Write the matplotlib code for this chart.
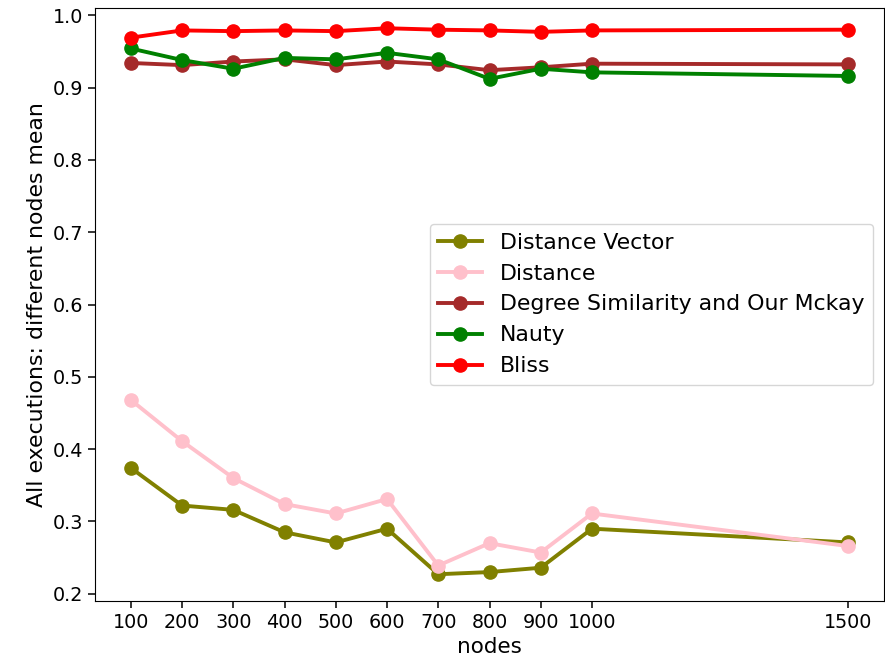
import matplotlib
matplotlib.use("Agg")
import matplotlib.pyplot as plt

nodes = [100, 200, 300, 400, 500, 600, 700, 800, 900, 1000, 1500]
distance_vector = [0.374, 0.322, 0.316, 0.285, 0.271, 0.290, 0.227, 0.230, 0.236, 0.290, 0.271]
distance = [0.468, 0.411, 0.360, 0.324, 0.311, 0.331, 0.239, 0.270, 0.257, 0.311, 0.266]
degree_sim = [0.934, 0.931, 0.936, 0.939, 0.931, 0.936, 0.932, 0.924, 0.928, 0.933, 0.932]
nauty = [0.954, 0.938, 0.926, 0.941, 0.939, 0.948, 0.939, 0.912, 0.926, 0.921, 0.916]
bliss = [0.969, 0.979, 0.978, 0.979, 0.978, 0.982, 0.980, 0.979, 0.977, 0.979, 0.980]

series = [
    ("Distance Vector", distance_vector, "olive"),
    ("Distance", distance, "pink"),
    ("Degree Similarity and Our Mckay", degree_sim, "brown"),
    ("Nauty", nauty, "green"),
    ("Bliss", bliss, "red"),
]

fig = plt.figure(figsize=(8.85, 6.7), dpi=100)
ax = fig.add_axes([95/885, 1-601/670, (884-95)/885, (601-8)/670])
for label, vals, color in series:
    ax.plot(nodes, vals, marker="o", color=color, linewidth=2.8, markersize=9.5, label=label)

ax.set_xticks(nodes)
ax.set_xticklabels([str(n) for n in nodes])
ax.tick_params(axis="both", labelsize=13.8, length=4.8, width=1.1)
ax.set_ylim(0.19, 1.01)
ax.set_xlim(30, 1570)
ax.set_xlabel("nodes", fontsize=15.5, labelpad=4)
ax.set_ylabel("All executions: different nodes mean", fontsize=15.8, labelpad=4)
ax.legend(loc="center right", fontsize=15.8)
fig.savefig("out.png", dpi=100)
